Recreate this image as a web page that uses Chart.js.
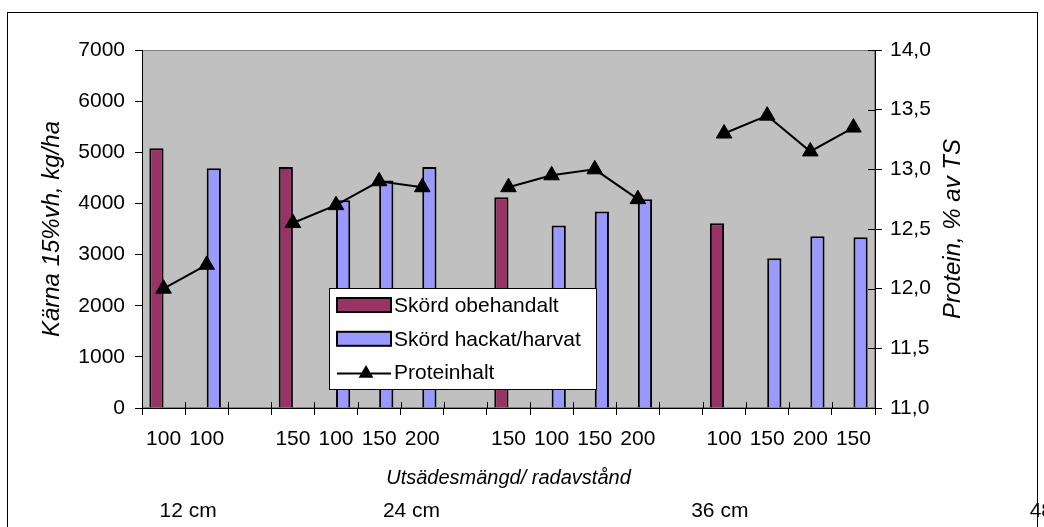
<!DOCTYPE html>
<html>
<head>
<meta charset="utf-8">
<script src="https://cdn.jsdelivr.net/npm/chart.js@4.4.1/dist/chart.umd.min.js"></script>
<style>
  html, body { margin: 0; padding: 0; background: #fff; }
  #wrap { width: 1044px; height: 527px; position: relative; }
</style>
</head>
<body>
<div id="wrap"><canvas id="chart"></canvas></div>
<script>
// seed rate per row spacing group (empty slots separate the groups)
const categories = ['100', '100', '', '150', '100', '150', '200', '', '150', '100', '150', '200', '', '100', '150', '200', '150'];
const skordObehandlat = [5080, null, null, 4710, null, null, null, null, 4120, null, null, null, null, 3610, null, null, null];
const skordHackat = [null, 4690, null, null, 4060, 4450, 4710, null, null, 3570, 3840, 4080, null, null, 2930, 3360, 3340];
const proteinhalt = [12.0, 12.2, null, 12.55, 12.7, 12.9, 12.85, null, 12.85, 12.95, 13.0, 12.75, null, 13.3, 13.45, 13.15, 13.35];
const radavstand = ['12 cm', '24 cm', '36 cm', '48 cm'];
const radavstandAt = [0.57, 5.75, 12.9, 20.75]; // category index under which each label is centred

const FONT = '"Liberation Sans", Arial, sans-serif';
const FS = 21;

const frame = {
    id: 'frame',
    beforeDraw(chart) {
        const { ctx, chartArea: a } = chart;
        ctx.save();
        ctx.fillStyle = '#fff';
        ctx.fillRect(0, 0, chart.width, chart.height);
        ctx.strokeStyle = '#000';
        ctx.lineWidth = 1;
        ctx.strokeRect(7.5, 12.5, 1030, 530);
        ctx.fillStyle = '#c0c0c0';
        ctx.fillRect(a.left, a.top, a.right - a.left, a.bottom - a.top);
        ctx.strokeStyle = '#808080';
        ctx.strokeRect(a.left + 0.5, a.top + 0.5, a.right - a.left - 1, a.bottom - a.top - 1);
        ctx.restore();
    },
    beforeDatasetsDraw(chart) {
        // the right and bottom axes have ticks crossing into the plot
        const { ctx, scales: { x, y1 }, chartArea: a } = chart;
        ctx.save();
        ctx.strokeStyle = '#000';
        ctx.lineWidth = 1;
        ctx.beginPath();
        y1.ticks.forEach((t, i) => {
            const py = Math.round(y1.getPixelForTick(i)) + 0.5;
            ctx.moveTo(a.right - 7, py);
            ctx.lineTo(a.right, py);
        });
        for (let i = 0; i <= categories.length; i++) {
            const px = Math.round(x.getPixelForValue(i - 0.5)) + 0.5;
            ctx.moveTo(px, a.bottom - 6);
            ctx.lineTo(px, a.bottom);
        }
        ctx.stroke();
        ctx.restore();
    },
    afterDraw(chart) {
        const { ctx, scales: { x }, chartArea: a } = chart;
        ctx.save();
        ctx.fillStyle = '#000';
        ctx.textBaseline = 'middle';
        ctx.textAlign = 'center';
        ctx.font = `${FS}px ${FONT}`;
        radavstand.forEach((lbl, i) => {
            ctx.fillText(lbl, x.getPixelForValue(radavstandAt[i]), 511);
        });
        // right axis title reads bottom to top, like the left one
        ctx.font = `italic 24px ${FONT}`;
        ctx.translate(953, (a.top + a.bottom) / 2);
        ctx.rotate(-Math.PI / 2);
        ctx.fillText('Protein, % av TS', 0, 0);
        ctx.restore();

        // legend box inside the plot
        const bx = 329, by = 288, bw = 267, bh = 101;
        ctx.save();
        ctx.fillStyle = '#fff';
        ctx.fillRect(bx, by, bw, bh);
        ctx.strokeStyle = '#000';
        ctx.lineWidth = 1;
        ctx.strokeRect(bx + 0.5, by + 0.5, bw, bh);
        ctx.font = `${FS}px ${FONT}`;
        ctx.textBaseline = 'middle';
        chart.data.datasets.forEach((ds, i) => {
            const cy = by + 17 + i * 33.8;
            if (ds.type === 'line') {
                ctx.strokeStyle = '#000';
                ctx.lineWidth = 2;
                ctx.beginPath();
                ctx.moveTo(bx + 8, cy + 1);
                ctx.lineTo(bx + 62, cy + 1);
                ctx.stroke();
                const r = 8.5, tx = bx + 37, ty = cy + 1;
                ctx.fillStyle = '#000';
                ctx.beginPath();
                ctx.moveTo(tx, ty - r);
                ctx.lineTo(tx + r * 0.866, ty + r / 2);
                ctx.lineTo(tx - r * 0.866, ty + r / 2);
                ctx.closePath();
                ctx.fill();
            } else {
                ctx.fillStyle = ds.backgroundColor;
                ctx.fillRect(bx + 8, cy - 7, 54, 14);
                ctx.strokeStyle = '#000';
                ctx.lineWidth = 2;
                ctx.strokeRect(bx + 8, cy - 7, 54, 14);
            }
            ctx.fillStyle = '#000';
            ctx.fillText(ds.label, bx + 65, cy + 1);
        });
        ctx.restore();
    }
};

const tickFont = { family: FONT, size: FS };

new Chart(document.getElementById('chart'), {
    data: {
        labels: categories,
        datasets: [{
                type: 'bar',
                label: 'Skörd obehandalt',
                data: skordObehandlat,
                backgroundColor: '#993366',
                borderColor: '#000',
                borderWidth: 2,
                yAxisID: 'y',
                order: 1
            }, {
                type: 'bar',
                label: 'Skörd hackat/harvat',
                data: skordHackat,
                backgroundColor: '#9999ff',
                borderColor: '#000',
                borderWidth: 2,
                yAxisID: 'y',
                order: 1
            }, {
                type: 'line',
                label: 'Proteinhalt',
                data: proteinhalt,
                borderColor: '#000',
                borderWidth: 2,
                backgroundColor: '#000',
                pointStyle: 'triangle',
                pointRadius: 9,
                pointBorderWidth: 1,
                spanGaps: false,
                yAxisID: 'y1',
                order: 0
            }]
    },
    options: {
        responsive: true,
        maintainAspectRatio: false,
        animation: false,
        events: [],
        layout: { padding: { top: 50, left: 0, right: 0, bottom: 0 } },
        datasets: {
            bar: { barPercentage: 1, categoryPercentage: 0.66 }
        },
        plugins: {
            legend: { display: false },
            tooltip: { enabled: false }
        },
        scales: {
            x: {
                offset: true,
                grid: { offset: true, drawOnChartArea: false, color: '#000', tickLength: 7 },
                border: { color: '#000' },
                ticks: { color: '#000', font: tickFont, padding: 12, maxRotation: 0, autoSkip: false },
                title: {
                    display: true,
                    text: 'Utsädesmängd/ radavstånd',
                    color: '#000',
                    font: { family: FONT, size: 20, style: 'italic' },
                    padding: { top: 0, bottom: 37 }
                },
                afterFit(s) { s.height = 119; }
            },
            y: {
                position: 'left',
                min: 0,
                max: 7000,
                ticks: { stepSize: 1000, color: '#000', font: tickFont, padding: 10, callback: v => String(v) },
                grid: { drawOnChartArea: false, color: '#000', tickLength: 7 },
                border: { color: '#000' },
                title: {
                    display: true,
                    text: 'Kärna 15%vh, kg/ha',
                    color: '#000',
                    font: { family: FONT, size: 24, style: 'italic' },
                    padding: { top: 38, bottom: 0 }
                },
                afterFit(s) { s.width = 142; }
            },
            y1: {
                position: 'right',
                min: 11,
                max: 14,
                ticks: {
                    stepSize: 0.5,
                    color: '#000',
                    font: tickFont,
                    padding: 8,
                    callback: v => v.toFixed(1).replace('.', ',')
                },
                grid: { drawOnChartArea: false, color: '#000', tickLength: 7 },
                border: { color: '#000' },
                afterFit(s) { s.width = 169; }
            }
        }
    },
    plugins: [frame]
});
</script>
</body>
</html>
